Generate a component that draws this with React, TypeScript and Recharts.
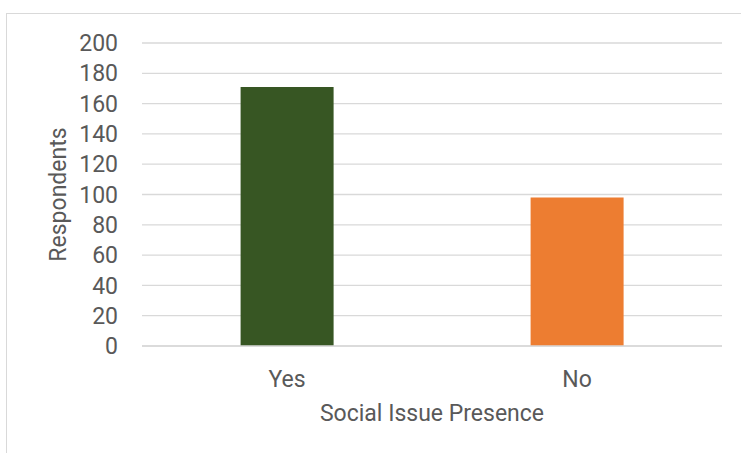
import React from 'react';
import { BarChart, Bar, XAxis, YAxis, CartesianGrid, Cell, Label } from 'recharts';

const categories = ['Yes', 'No'];
const respondents = [171, 98];
const barColors = ['#375623', '#ED7D31'];
const yTicks = [0, 20, 40, 60, 80, 100, 120, 140, 160, 180, 200];

const chartData = categories.map((name, i) => ({ name, value: respondents[i] }));

const textColor = '#595959';
const font = 'Roboto, sans-serif';
const fontSize = 23;

const App: React.FC = () => {
  return (
    <div style={{ position: 'fixed', left: 0, top: 0, width: 741, height: 453, background: '#fff', overflow: 'hidden' }}>
      <div
        style={{
          position: 'absolute',
          left: 6,
          top: 13,
          width: 760,
          height: 460,
          border: '1px solid #d9d9d9',
          boxSizing: 'border-box',
        }}
      />
      <div style={{ position: 'absolute', left: 0, top: 0 }}>
        <BarChart
          width={741}
          height={453}
          data={chartData}
          margin={{ top: 43, right: 19, bottom: 0, left: 0 }}
          barCategoryGap="34%"
        >
          <CartesianGrid vertical={false} stroke="#d9d9d9" strokeWidth={1.3} />
          <XAxis
            dataKey="name"
            height={107}
            axisLine={{ stroke: '#d9d9d9', strokeWidth: 1.3 }}
            tickLine={false}
            tickMargin={19}
            tick={{ fill: textColor, fontFamily: font, fontSize }}
          >
            <Label
              content={({ viewBox }: any) => (
                <text
                  x={viewBox.x + viewBox.width / 2}
                  y={viewBox.y + 75}
                  textAnchor="middle"
                  fill={textColor}
                  fontFamily={font}
                  fontSize={fontSize}
                >
                  Social Issue Presence
                </text>
              )}
            />
          </XAxis>
          <YAxis
            width={142}
            domain={[0, 200]}
            ticks={yTicks}
            interval={0}
            axisLine={false}
            tickLine={false}
            tickMargin={18}
            tick={{ fill: textColor, fontFamily: font, fontSize }}
          >
            <Label
              content={({ viewBox }: any) => {
                const cx = viewBox.x + 66;
                const cy = viewBox.y + viewBox.height / 2;
                return (
                  <text
                    x={cx}
                    y={cy}
                    transform={`rotate(-90 ${cx} ${cy})`}
                    textAnchor="middle"
                    fill={textColor}
                    fontFamily={font}
                    fontSize={fontSize}
                  >
                    Respondents
                  </text>
                );
              }}
            />
          </YAxis>
          <Bar dataKey="value" isAnimationActive={false}>
            {chartData.map((d, i) => (
              <Cell key={d.name} fill={barColors[i]} />
            ))}
          </Bar>
        </BarChart>
      </div>
    </div>
  );
};

export default App;
